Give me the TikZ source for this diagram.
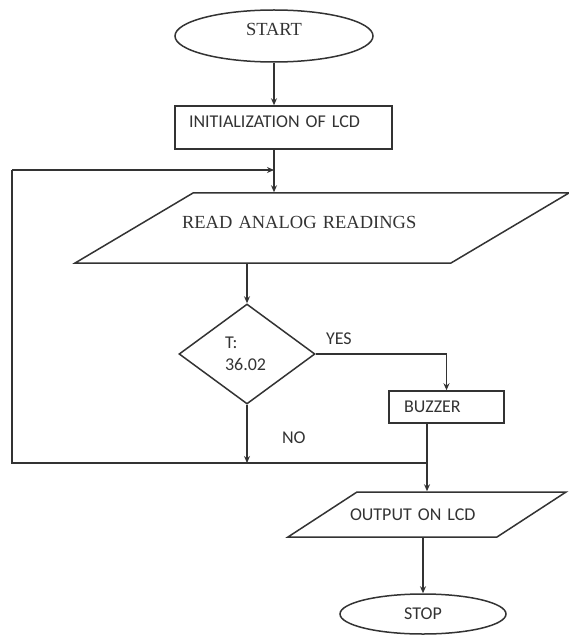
\documentclass[tikz,border=0pt]{standalone}
\usepackage{fontspec}
\setmainfont{Liberation Serif}
\newfontfamily\calibri{Carlito}
\usetikzlibrary{shapes.geometric,arrows.meta}

\begin{document}
\begin{tikzpicture}[x=1pt,y=-1pt,color=black!80,line width=1.5pt,
	serif/.style={font=\fontsize{18.5}{22}\selectfont},
	sans/.style={font=\calibri\fontsize{18}{22}\selectfont},
	terminal/.style={ellipse,draw,inner sep=2pt},
	box/.style={rectangle,draw,align=left},
	io/.style={trapezium,draw,align=left,inner sep=0pt},
	decide/.style={diamond,draw,align=left,inner sep=0pt},
	arrow/.style={-{Stealth[length=7pt,width=6pt]}}]
					% Fix the page
					\useasboundingbox (0,0) rectangle (568,636);
					% Create the blocks
					\node[terminal,serif,minimum width=198pt,minimum height=52pt,text height=12pt,text depth=12pt] (start) at (274,36) {START};
					\node[box,sans,minimum width=217pt,minimum height=43pt,inner xsep=14pt,text width=189pt,text height=12pt,text depth=11pt] (init) at (283.5,127.5) {INITIALIZATION OF LCD};
					\node[io,serif,trapezium left angle=30.7,trapezium right angle=149.3,text width=258pt,text height=35pt,text depth=35pt] (read) at (322,228) {\hspace*{-11pt}READ ANALOG READINGS};
					\node[decide,sans,minimum width=136pt,minimum height=100pt,text width=44pt] (test) at (247,354) {T:\\36.02};
					\node[box,sans,minimum width=115pt,minimum height=32pt,inner xsep=15pt,text width=85pt] (buzzer) at (446.5,407) {BUZZER};
					\node[io,sans,trapezium left angle=33.1,trapezium right angle=146.9,text width=140pt,text height=28.3pt,text depth=16.7pt] (output) at (427,514.5) {\hspace*{-7pt}OUTPUT ON LCD};
					\node[terminal,sans,minimum width=166pt,minimum height=40pt] (stop) at (423,614) {STOP};
					% Labels of the branches
					\node[sans,anchor=west] (yes) at (322,339) {YES};
					\node[sans,anchor=west] (no) at (278,438) {NO};
					% Corners of the loop
					\coordinate (loopbl) at (12,463);
					\coordinate (looptl) at (12,170);
					\coordinate (join) at (output.north |- loopbl);
					% Connect the blocks
					\draw[arrow] (start.south) -- (start.south |- init.north);
					\draw[arrow] (start.south |- init.south) -- (start.south |- read.north);
					\draw[arrow] (test.north |- read.south) -- (test.north);
					\draw[arrow] (test.east) -| (buzzer.north);
					\draw[arrow] (test.south) -- (test.south |- loopbl);
					\draw (buzzer.south -| output.north) -- (join);
					\draw[arrow] (join) -- (output.north);
					\draw[arrow] (stop.north |- output.south) -- (stop.north);
					% Back to the reading
					\draw (join) -- (loopbl) -- (looptl);
					\draw[arrow] (looptl) -- (looptl -| start.south);
				\end{tikzpicture}
\end{document}
